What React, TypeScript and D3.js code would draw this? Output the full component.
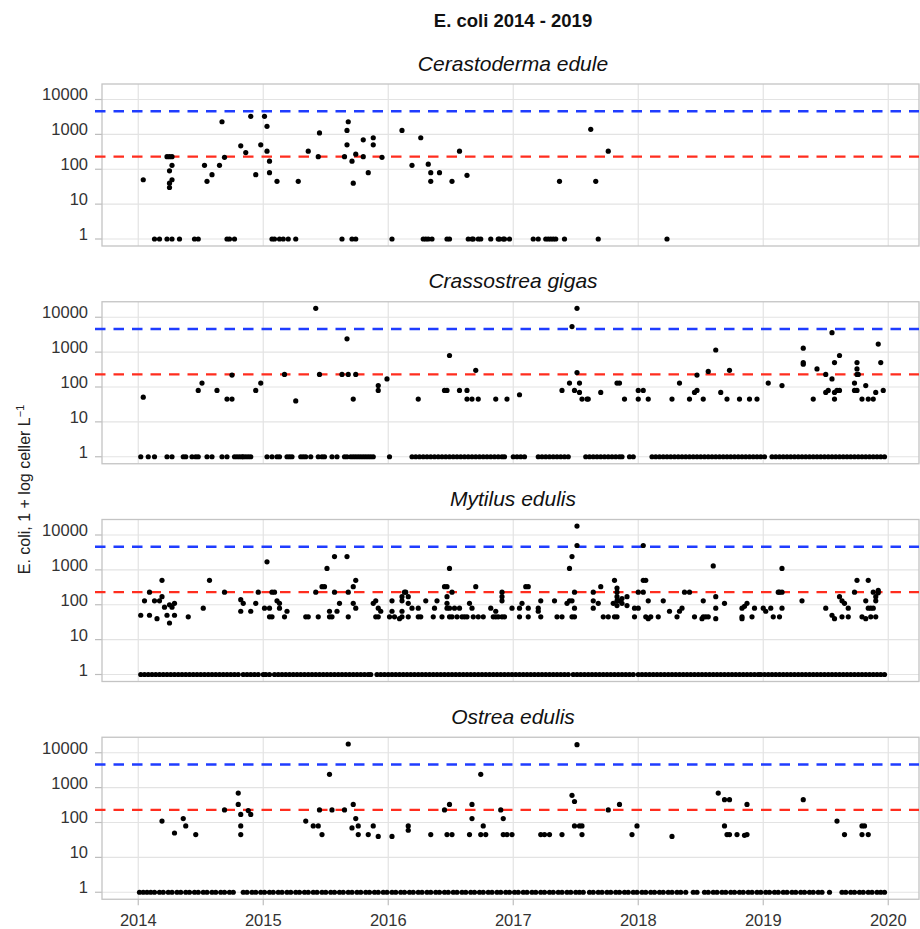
import React from "react";
import * as d3 from "d3";

// ---- data (decimal year, E. coli count); "1" = below detection ----
const speciesNames = ["Cerastoderma edule", "Crassostrea gigas", "Mytilus edulis", "Ostrea edulis"];
const yearTicks = [2014, 2015, 2016, 2017, 2018, 2019, 2020];
const yTicks = [1, 10, 100, 1000, 10000];
const limitBlue = 4600;
const limitRed = 230;

const cerDates = [2014.04, 2014.23, 2014.25, 2014.27, 2014.27, 2014.25, 2014.27, 2014.25, 2014.25, 2014.53, 2014.55, 2014.59, 2014.65, 2014.67, 2014.69, 2014.82, 2014.86, 2014.90, 2014.94, 2014.98, 2015.01, 2015.03, 2015.03, 2015.05, 2015.05, 2015.11, 2015.28, 2015.36, 2015.44, 2015.45, 2015.65, 2015.67, 2015.67, 2015.68, 2015.71, 2015.72, 2015.74, 2015.80, 2015.80, 2015.84, 2015.88, 2015.88, 2015.95, 2016.11, 2016.19, 2016.26, 2016.32, 2016.34, 2016.34, 2016.41, 2016.51, 2016.57, 2016.63, 2017.37, 2017.62, 2017.66, 2017.76];
const cerValues = [50, 230, 230, 230, 130, 90, 50, 40, 30, 130, 45, 70, 130, 2300, 220, 470, 300, 3300, 70, 500, 3300, 1700, 330, 170, 80, 45, 45, 330, 230, 1100, 230, 1300, 500, 2300, 170, 40, 270, 700, 230, 80, 800, 500, 220, 1300, 130, 800, 140, 80, 45, 80, 45, 330, 67, 45, 1400, 45, 330];
const cerOnes = [2014.13, 2014.17, 2014.23, 2014.27, 2014.33, 2014.45, 2014.48, 2014.71, 2014.73, 2014.77, 2015.07, 2015.09, 2015.13, 2015.16, 2015.20, 2015.26, 2015.63, 2015.71, 2015.74, 2016.03, 2016.28, 2016.30, 2016.32, 2016.35, 2016.47, 2016.49, 2016.64, 2016.67, 2016.68, 2016.72, 2016.74, 2016.82, 2016.88, 2016.89, 2016.92, 2016.93, 2016.97, 2017.16, 2017.20, 2017.26, 2017.28, 2017.30, 2017.32, 2017.34, 2017.41, 2017.68, 2018.23];

const gigDates = [2014.04, 2014.48, 2014.51, 2014.63, 2014.71, 2014.75, 2014.75, 2014.94, 2014.98, 2015.17, 2015.26, 2015.42, 2015.45, 2015.63, 2015.67, 2015.68, 2015.72, 2015.74, 2015.92, 2015.92, 2015.99, 2016.24, 2016.45, 2016.47, 2016.49, 2016.57, 2016.63, 2016.63, 2016.67, 2016.70, 2016.72, 2016.86, 2016.95, 2017.05, 2017.39, 2017.45, 2017.47, 2017.51, 2017.51, 2017.49, 2017.53, 2017.53, 2017.55, 2017.59, 2017.60, 2017.70, 2017.83, 2017.85, 2017.89, 2018.00, 2018.04, 2018.00, 2018.08, 2018.27, 2018.33, 2018.41, 2018.45, 2018.47, 2018.47, 2018.52, 2018.56, 2018.62, 2018.66, 2018.71, 2018.73, 2018.81, 2018.89, 2018.95, 2019.04, 2019.15, 2019.32, 2019.32, 2019.32, 2019.40, 2019.43, 2019.50, 2019.50, 2019.52, 2019.55, 2019.55, 2019.57, 2019.57, 2019.57, 2019.59, 2019.61, 2019.61, 2019.73, 2019.73, 2019.75, 2019.75, 2019.75, 2019.76, 2019.75, 2019.79, 2019.82, 2019.84, 2019.88, 2019.90, 2019.92, 2019.94, 2019.96];
const gigValues = [51, 80, 130, 80, 45, 45, 220, 80, 130, 230, 40, 18000, 230, 230, 2400, 230, 45, 230, 110, 80, 170, 45, 80, 80, 800, 80, 80, 45, 45, 300, 45, 45, 45, 60, 80, 130, 5400, 18000, 260, 80, 130, 70, 45, 45, 45, 70, 130, 130, 45, 80, 80, 45, 45, 45, 130, 45, 70, 80, 220, 45, 280, 1150, 70, 45, 300, 45, 45, 45, 130, 110, 1300, 500, 450, 45, 330, 230, 70, 80, 3600, 170, 500, 70, 45, 80, 800, 80, 130, 80, 500, 330, 230, 230, 80, 45, 110, 45, 45, 70, 1700, 500, 80];
const gigOnes = [2014.02, 2014.08, 2014.13, 2014.23, 2014.27, 2014.36, 2014.38, 2014.43, 2014.46, 2014.48, 2014.55, 2014.59, 2014.67, 2014.71, 2014.77, 2014.79, 2014.81, 2014.83, 2014.84, 2014.86, 2014.88, 2014.90, 2015.03, 2015.07, 2015.11, 2015.13, 2015.19, 2015.21, 2015.23, 2015.30, 2015.32, 2015.34, 2015.38, 2015.44, 2015.47, 2015.49, 2015.55, 2015.59, 2015.65, 2015.67, 2015.70, 2015.72, 2015.74, 2015.76, 2015.78, 2015.80, 2015.82, 2015.84, 2015.86, 2015.88, 2016.01,
  2016.19, 2016.22, 2016.25, 2016.28, 2016.31, 2016.34, 2016.37, 2016.40, 2016.43, 2016.46, 2016.49, 2016.52, 2016.55, 2016.58, 2016.61, 2016.64, 2016.67, 2016.70, 2016.73, 2016.76, 2016.79, 2016.82, 2016.85, 2016.88, 2016.91, 2016.93,
  2017.00, 2017.03, 2017.06, 2017.09, 2017.20, 2017.23, 2017.26, 2017.29, 2017.32, 2017.35, 2017.38, 2017.41, 2017.44,
  2017.58, 2017.61, 2017.64, 2017.67, 2017.70, 2017.73, 2017.76, 2017.79, 2017.82, 2017.85, 2017.87, 2017.93, 2017.96,
  2018.11, 2018.14, 2018.17, 2018.20, 2018.23, 2018.26, 2018.29, 2018.32, 2018.35, 2018.38, 2018.41, 2018.44, 2018.47, 2018.50, 2018.53, 2018.56, 2018.59, 2018.62, 2018.65, 2018.68, 2018.71,
  2018.74, 2018.77, 2018.80, 2018.83, 2018.86, 2018.89, 2018.92, 2018.95, 2018.98, 2019.01,
  2019.07, 2019.10, 2019.13, 2019.16, 2019.19, 2019.22, 2019.25, 2019.28, 2019.31, 2019.34, 2019.37, 2019.40, 2019.43, 2019.46, 2019.49, 2019.52, 2019.55, 2019.58, 2019.61, 2019.64, 2019.67, 2019.70, 2019.73, 2019.76, 2019.79, 2019.82, 2019.85, 2019.88, 2019.91, 2019.94, 2019.97];

const mytDates = [2014.02, 2014.05, 2014.09, 2014.09, 2014.13, 2014.17, 2014.15, 2014.19, 2014.19, 2014.21, 2014.23, 2014.25, 2014.25, 2014.27, 2014.29, 2014.29, 2014.40, 2014.52, 2014.57, 2014.69, 2014.82, 2014.82, 2014.84, 2014.90, 2014.94, 2014.96,
  2015.01, 2015.05, 2015.03, 2015.05, 2015.07, 2015.07, 2015.09, 2015.11, 2015.13, 2015.13, 2015.17, 2015.19, 2015.34, 2015.36, 2015.42, 2015.44, 2015.47, 2015.49, 2015.51, 2015.53, 2015.53, 2015.55, 2015.57, 2015.57, 2015.59, 2015.61, 2015.67, 2015.68, 2015.68, 2015.72, 2015.72, 2015.74, 2015.74, 2015.88, 2015.90, 2015.90, 2015.92, 2015.92, 2015.94,
  2016.01, 2016.03, 2016.03, 2016.05, 2016.09, 2016.11, 2016.11, 2016.11, 2016.11, 2016.13, 2016.14, 2016.16, 2016.16, 2016.16, 2016.19, 2016.24, 2016.24, 2016.26, 2016.30, 2016.36, 2016.37, 2016.39, 2016.43, 2016.45, 2016.47, 2016.47, 2016.47, 2016.47, 2016.49, 2016.49, 2016.49, 2016.51, 2016.51, 2016.53, 2016.55, 2016.57, 2016.59, 2016.61, 2016.63, 2016.65, 2016.67, 2016.68, 2016.70, 2016.72, 2016.76, 2016.82, 2016.84, 2016.86, 2016.86, 2016.88, 2016.91, 2016.91, 2016.91, 2016.91, 2016.93, 2016.99,
  2017.05, 2017.05, 2017.07, 2017.10, 2017.12, 2017.12, 2017.12, 2017.20, 2017.20, 2017.22, 2017.22, 2017.33, 2017.35, 2017.39, 2017.43, 2017.45, 2017.45, 2017.47, 2017.47, 2017.47, 2017.49, 2017.49, 2017.49, 2017.51, 2017.51, 2017.64, 2017.64, 2017.64, 2017.68, 2017.70, 2017.72, 2017.76, 2017.80, 2017.81, 2017.81, 2017.83, 2017.83, 2017.83, 2017.83, 2017.83, 2017.83, 2017.85, 2017.87, 2017.87, 2017.91, 2017.91, 2017.97, 2017.97,
  2018.00, 2018.00, 2018.04, 2018.04, 2018.06, 2018.04, 2018.08, 2018.06, 2018.08, 2018.10, 2018.16, 2018.20, 2018.25, 2018.31, 2018.33, 2018.35, 2018.37, 2018.41, 2018.45, 2018.51, 2018.52, 2018.54, 2018.56, 2018.52, 2018.60, 2018.62, 2018.62, 2018.62, 2018.69, 2018.83, 2018.83, 2018.83, 2018.85, 2018.87, 2018.91, 2018.93,
  2019.00, 2019.02, 2019.06, 2019.08, 2019.13, 2019.12, 2019.13, 2019.15, 2019.15, 2019.15, 2019.31, 2019.50, 2019.55, 2019.57, 2019.61, 2019.63, 2019.65, 2019.63, 2019.68, 2019.68, 2019.73, 2019.75, 2019.79, 2019.82, 2019.82, 2019.84, 2019.84, 2019.86, 2019.88, 2019.86, 2019.90, 2019.88, 2019.90, 2019.92, 2019.92, 2019.90];
const mytValues = [50, 130, 230, 50, 130, 130, 40, 500, 170, 85, 50, 100, 30, 85, 110, 50, 45, 80, 500, 230, 140, 65, 110, 65, 110, 230,
  80, 80, 1700, 45, 45, 230, 230, 130, 110, 80, 45, 65, 45, 45, 230, 45, 330, 330, 1100, 65, 45, 45, 2400, 230, 65, 110, 2400, 230, 45, 330, 110, 500, 80, 110, 130, 45, 45, 80, 65,
  45, 130, 65, 45, 40, 170, 130, 65, 45, 230, 230, 170, 110, 45, 80, 80, 45, 45, 130, 45, 80, 130, 45, 330, 330, 170, 110, 80, 1100, 80, 45, 230, 45, 80, 45, 80, 45, 45, 45, 110, 80, 45, 330, 45, 45, 80, 45, 65, 45, 45, 230, 170, 130, 45, 45, 80,
  80, 45, 110, 330, 330, 80, 45, 80, 65, 45, 130, 130, 45, 45, 110, 130, 1100, 130, 2400, 45, 230, 80, 45, 5000, 18000, 230, 130, 80, 110, 330, 45, 45, 110, 500, 45, 300, 230, 170, 130, 95, 45, 130, 110, 150, 170, 95, 80, 45,
  230, 80, 5000, 500, 500, 230, 130, 45, 40, 45, 45, 130, 65, 45, 65, 80, 230, 230, 45, 40, 45, 45, 45, 130, 1300, 170, 80, 40, 110, 80, 45, 40, 90, 110, 45, 80,
  80, 65, 80, 45, 45, 230, 230, 1100, 230, 80, 130, 80, 50, 40, 170, 130, 110, 45, 80, 45, 230, 500, 45, 40, 130, 500, 80, 80, 80, 45, 45, 230, 170, 260, 220, 130];
const mytOnes = [2014.02, 2014.05, 2014.08, 2014.11, 2014.14, 2014.17, 2014.20, 2014.23, 2014.26, 2014.29, 2014.32, 2014.35, 2014.38, 2014.41, 2014.44, 2014.47, 2014.50, 2014.53, 2014.56, 2014.59, 2014.62, 2014.65, 2014.68, 2014.71, 2014.74, 2014.77, 2014.80,
  2014.84, 2014.87, 2014.90, 2014.93, 2014.96, 2015.00, 2015.02, 2015.05,
  2015.09, 2015.12, 2015.15, 2015.18, 2015.21, 2015.24, 2015.27, 2015.30, 2015.33, 2015.36, 2015.39, 2015.42, 2015.45, 2015.48, 2015.51, 2015.54, 2015.57, 2015.60, 2015.63, 2015.66, 2015.69, 2015.72, 2015.75, 2015.78, 2015.81, 2015.84, 2015.86,
  2015.91, 2015.94, 2015.97, 2016.00, 2016.03, 2016.06, 2016.09, 2016.12, 2016.15, 2016.18, 2016.21, 2016.24, 2016.27, 2016.30, 2016.33, 2016.36, 2016.39, 2016.42, 2016.45, 2016.48, 2016.51, 2016.54, 2016.57, 2016.60, 2016.63, 2016.66, 2016.69, 2016.72, 2016.75, 2016.78, 2016.81, 2016.84, 2016.87, 2016.90, 2016.93, 2016.96, 2016.99,
  2017.02, 2017.05, 2017.08, 2017.11, 2017.14, 2017.17, 2017.20, 2017.23, 2017.26, 2017.29, 2017.32, 2017.35, 2017.38, 2017.41, 2017.44,
  2017.48, 2017.51, 2017.54, 2017.57, 2017.60, 2017.63, 2017.66, 2017.69, 2017.72, 2017.75, 2017.78, 2017.81,
  2017.84, 2017.87, 2017.90, 2017.93, 2017.96, 2018.00, 2018.03, 2018.06, 2018.09, 2018.12, 2018.15, 2018.18, 2018.21, 2018.24, 2018.27, 2018.30, 2018.33, 2018.36, 2018.39, 2018.42, 2018.45, 2018.48, 2018.51, 2018.54, 2018.57, 2018.60, 2018.63, 2018.66, 2018.69, 2018.72, 2018.75, 2018.78, 2018.81, 2018.84, 2018.87, 2018.90, 2018.93, 2018.96, 2018.98,
  2019.01, 2019.04, 2019.07, 2019.10, 2019.13, 2019.16, 2019.19, 2019.22, 2019.25, 2019.28, 2019.31, 2019.34, 2019.37, 2019.40, 2019.43, 2019.46, 2019.49, 2019.52, 2019.55, 2019.58, 2019.61, 2019.64, 2019.67, 2019.70, 2019.73, 2019.76, 2019.79, 2019.82, 2019.85, 2019.88, 2019.91, 2019.94, 2019.97];

const ostDates = [2014.19, 2014.29, 2014.36, 2014.38, 2014.46, 2014.69, 2014.80, 2014.80, 2014.82, 2014.82, 2014.82, 2014.88, 2014.90,
  2015.34, 2015.40, 2015.44, 2015.45, 2015.47, 2015.53, 2015.55, 2015.65, 2015.68, 2015.71, 2015.72, 2015.74, 2015.76, 2015.76, 2015.84, 2015.88, 2015.92,
  2016.03, 2016.16, 2016.16, 2016.34, 2016.45, 2016.49, 2016.47, 2016.51, 2016.65, 2016.67, 2016.67, 2016.74, 2016.74, 2016.76, 2016.78, 2016.90, 2016.92, 2016.92, 2016.95, 2016.99,
  2017.22, 2017.25, 2017.29, 2017.39, 2017.47, 2017.49, 2017.49, 2017.53, 2017.55, 2017.55, 2017.51, 2017.76, 2017.85, 2017.95, 2017.99,
  2018.27, 2018.64, 2018.69, 2018.73, 2018.69, 2018.71, 2018.73, 2018.79, 2018.85, 2018.87, 2018.87,
  2019.32, 2019.59, 2019.65, 2019.79, 2019.79, 2019.81, 2019.84];
const ostValues = [110, 50, 130, 80, 45, 230, 700, 330, 170, 80, 45, 220, 170,
  110, 80, 80, 230, 45, 2400, 230, 230, 17800, 70, 330, 130, 80, 45, 45, 80, 40,
  40, 80, 60, 45, 230, 330, 45, 45, 45, 330, 130, 2400, 45, 80, 45, 230, 130, 45, 45, 45,
  45, 45, 45, 45, 600, 400, 80, 80, 80, 45, 17000, 230, 330, 45, 80,
  40, 700, 450, 450, 80, 45, 45, 45, 43, 45, 330,
  450, 110, 45, 80, 45, 80, 45];
const ostOnes = [2014.01, 2014.04, 2014.07, 2014.10, 2014.13, 2014.17, 2014.20, 2014.24, 2014.27, 2014.31, 2014.34, 2014.38, 2014.41, 2014.45, 2014.48, 2014.52, 2014.55, 2014.59, 2014.62, 2014.66, 2014.69, 2014.73, 2014.76,
  2014.84, 2014.87, 2014.91, 2014.94, 2014.98, 2015.01, 2015.05, 2015.08, 2015.12, 2015.15, 2015.19, 2015.22, 2015.26, 2015.29, 2015.33, 2015.36, 2015.40, 2015.43, 2015.47, 2015.50, 2015.54, 2015.57, 2015.61, 2015.64, 2015.68, 2015.71, 2015.75, 2015.78, 2015.82, 2015.85, 2015.89, 2015.92, 2015.96, 2015.99,
  2016.03, 2016.06, 2016.10, 2016.13, 2016.17, 2016.20, 2016.24, 2016.27, 2016.31, 2016.34, 2016.38, 2016.41, 2016.45, 2016.48, 2016.52, 2016.55, 2016.59, 2016.62, 2016.66, 2016.69, 2016.73, 2016.76, 2016.80, 2016.83, 2016.87, 2016.90, 2016.94, 2016.97,
  2017.01, 2017.04, 2017.08, 2017.11, 2017.15, 2017.18, 2017.22, 2017.25, 2017.29, 2017.32, 2017.36, 2017.39, 2017.43, 2017.46, 2017.50, 2017.53, 2017.56,
  2017.61, 2017.64, 2017.68, 2017.71, 2017.75, 2017.78, 2017.82, 2017.85, 2017.89, 2017.92, 2017.96, 2017.99, 2018.03, 2018.06, 2018.10, 2018.13, 2018.17, 2018.20, 2018.24, 2018.27, 2018.31, 2018.34, 2018.38,
  2018.44, 2018.47,
  2018.53, 2018.56, 2018.60, 2018.63, 2018.67, 2018.70, 2018.74, 2018.77, 2018.81, 2018.84, 2018.88, 2018.91, 2018.95, 2018.98, 2019.02, 2019.05, 2019.09, 2019.12, 2019.16, 2019.19, 2019.23, 2019.26, 2019.30, 2019.33, 2019.37, 2019.40, 2019.44, 2019.47,
  2019.53,
  2019.63, 2019.66, 2019.70, 2019.73, 2019.77, 2019.80, 2019.84, 2019.87, 2019.91, 2019.94, 2019.97];

const panels = [
  { name: speciesNames[0], dates: cerDates, values: cerValues, ones: cerOnes },
  { name: speciesNames[1], dates: gigDates, values: gigValues, ones: gigOnes },
  { name: speciesNames[2], dates: mytDates, values: mytValues, ones: mytOnes },
  { name: speciesNames[3], dates: ostDates, values: ostValues, ones: ostOnes },
];

const W = 920;
const H = 929;
const left = 102;
const right = 919;
const firstTop = 84;
const step = 217.75;
const panelH = 162;
const font = "'Liberation Sans', Arial, Helvetica, sans-serif";

const App = () => {
  const x = d3.scaleLinear().domain([2013.71, 2020.246]).range([left, right]);
  const titleX = 513;

  return (
    <svg width={W} height={H} style={{ position: "absolute", left: 0, top: 0, background: "#fff" }} fontFamily={font}>
      <text x={titleX} y={26.5} textAnchor="middle" fontSize={18.5} fontWeight={700} fill="#111">
        E. coli 2014 - 2019
      </text>
      <text transform="translate(30,489.5) rotate(-90)" textAnchor="middle" fontSize={16} fill="#222">
        E. coli, 1 + log celler L<tspan dy={-6} fontSize={11}>−1</tspan>
      </text>

      {panels.map((p, i) => {
        const top = firstTop + i * step;
        const y = d3.scaleLog().domain([10 ** -0.2007, 10 ** 4.4444]).range([top + panelH, top]);
        const isLast = i === panels.length - 1;
        return (
          <g key={p.name}>
            <text x={titleX} y={top - 13.3} textAnchor="middle" fontSize={21} fontStyle="italic" fill="#111">
              {p.name}
            </text>
            {/* grid */}
            {yearTicks.map((t) => (
              <line key={"vx" + t} x1={x(t)} x2={x(t)} y1={top} y2={top + panelH} stroke="#e3e3e3" strokeWidth={1.2} />
            ))}
            {yTicks.map((t) => (
              <line key={"hy" + t} x1={left} x2={right} y1={y(t)} y2={y(t)} stroke="#e3e3e3" strokeWidth={1.2} />
            ))}
            {/* y axis ticks + labels */}
            {yTicks.map((t) => (
              <g key={"yt" + t}>
                <line x1={95} x2={left} y1={y(t)} y2={y(t)} stroke="#bdbdbd" strokeWidth={1.2} />
                <text x={88} y={y(t) + 1} textAnchor="end" fontSize={16.5} fill="#333">
                  {t}
                </text>
              </g>
            ))}
            <rect x={left} y={top} width={right - left} height={panelH} fill="none" stroke="#c4c4c4" strokeWidth={1.3} />
            {/* limit lines */}
            <line x1={95} x2={right} y1={y(limitBlue)} y2={y(limitBlue)} stroke="#1f3cff" strokeWidth={2.4} strokeDasharray="10.5,8" />
            <line x1={95} x2={right} y1={y(limitRed)} y2={y(limitRed)} stroke="#ff2d1e" strokeWidth={2.4} strokeDasharray="10.5,8" />
            {/* samples */}
            {p.ones.map((d, j) => (
              <circle key={"o" + j} cx={x(d)} cy={y(1)} r={2.6} fill="#000" />
            ))}
            {p.dates.map((d, j) => (
              <circle key={"v" + j} cx={x(d)} cy={y(p.values[j])} r={2.6} fill="#000" />
            ))}
            {isLast &&
              yearTicks.map((t) => (
                <g key={"xt" + t}>
                  <line x1={x(t)} x2={x(t)} y1={top + panelH} y2={top + panelH + 6} stroke="#bdbdbd" strokeWidth={1.2} />
                  <text x={x(t)} y={925.7} textAnchor="middle" fontSize={16.5} fill="#333">
                    {t}
                  </text>
                </g>
              ))}
          </g>
        );
      })}
    </svg>
  );
};

export default App;
